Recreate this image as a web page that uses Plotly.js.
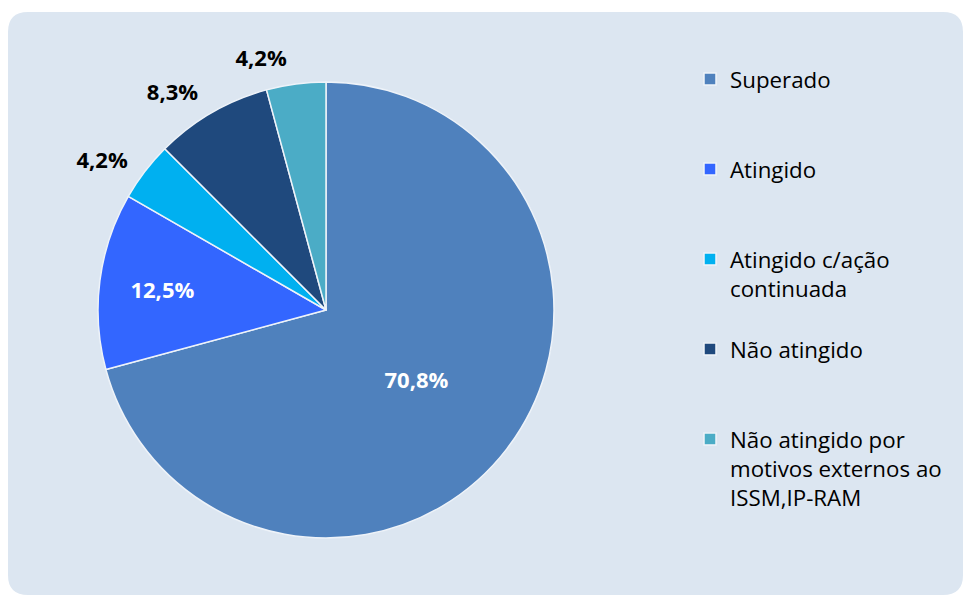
<!DOCTYPE html>
<html>
<head>
<meta charset="utf-8">
<script src="https://cdn.plot.ly/plotly-3.0.1.min.js"></script>
<style>html,body{margin:0;padding:0;background:#ffffff;}#chart{width:965px;height:596px;}</style>
</head>
<body>
<div id="chart"></div>
<script>
var categories = ["Superado", "Atingido", "Atingido c/ação<br>continuada", "Não atingido", "Não atingido por<br>motivos externos ao<br>ISSM,IP-RAM"];
var values = [70.8, 12.5, 4.2, 8.3, 4.2];
var colors = ["#4f81bd", "#3366ff", "#00b0f0", "#1f497d", "#4bacc6"];
var insideText = ["inside", "inside", "none", "none", "none"];
var outsideText = ["none", "none", "outside", "outside", "outside"];

// pad legend labels to three lines so entries are evenly spaced
var legendLabels = categories.map(function (c) {
  var n = c.split("<br>").length;
  var s = c;
  for (var i = n; i < 3; i++) s += "<br> ";
  return s;
});

var W = 965, H = 596;
var cx = 326, cy = 310, r = 228, rLabel = 240;

function dom(rad) {
  return { x: [(cx - rad) / W, (cx + rad) / W], y: [(H - cy - rad) / H, (H - cy + rad) / H] };
}

var pie = {
  type: "pie",
  labels: legendLabels,
  values: values,
  sort: false,
  direction: "clockwise",
  rotation: 0,
  marker: { colors: colors, line: { color: "#eef3f9", width: 1.5 } },
  textposition: insideText,
  texttemplate: "%{percent:.1%}",
  insidetextorientation: "horizontal",
  insidetextfont: { family: "Open Sans", size: 22, color: "#ffffff", weight: "bold" },
  hoverinfo: "label+percent",
  domain: dom(r)
};

// transparent companion pie that only carries the outside labels a bit further out
var labelPie = {
  type: "pie",
  labels: legendLabels,
  values: values,
  sort: false,
  direction: "clockwise",
  rotation: 0,
  showlegend: false,
  marker: { colors: values.map(function () { return "rgba(0,0,0,0)"; }), line: { width: 0 } },
  textposition: outsideText,
  texttemplate: "%{percent:.1%}",
  outsidetextfont: { family: "Open Sans", size: 22, color: "#000000", weight: "bold" },
  hoverinfo: "skip",
  domain: dom(rLabel)
};

// rounded background panel
var x0 = 8 / W, x1 = 963 / W, y0 = 1 - 595 / H, y1 = 1 - 12 / H;
var rx = 20 / W, ry = 20 / H;
var panelPath = "M" + (x0 + rx) + "," + y1 +
  " L" + (x1 - rx) + "," + y1 + " Q" + x1 + "," + y1 + " " + x1 + "," + (y1 - ry) +
  " L" + x1 + "," + (y0 + ry) + " Q" + x1 + "," + y0 + " " + (x1 - rx) + "," + y0 +
  " L" + (x0 + rx) + "," + y0 + " Q" + x0 + "," + y0 + " " + x0 + "," + (y0 + ry) +
  " L" + x0 + "," + (y1 - ry) + " Q" + x0 + "," + y1 + " " + (x0 + rx) + "," + y1 + " Z";

var layout = {
  width: W, height: H,
  margin: { l: 0, r: 0, t: 0, b: 0 },
  paper_bgcolor: "#ffffff",
  separators: ",.",
  showlegend: true,
  legend: {
    x: 690 / W, xanchor: "left",
    y: 1 - 58 / H, yanchor: "top",
    valign: "top",
    bgcolor: "rgba(0,0,0,0)",
    font: { family: "Open Sans", size: 22.3, color: "#000000" },
    itemclick: false
  },
  shapes: [{
    type: "path", xref: "paper", yref: "paper", layer: "below",
    path: panelPath, fillcolor: "#dce6f1", line: { width: 0 }
  }]
};

Plotly.newPlot("chart", [labelPie, pie], layout, { displayModeBar: false, staticPlot: true });
</script>
</body>
</html>
